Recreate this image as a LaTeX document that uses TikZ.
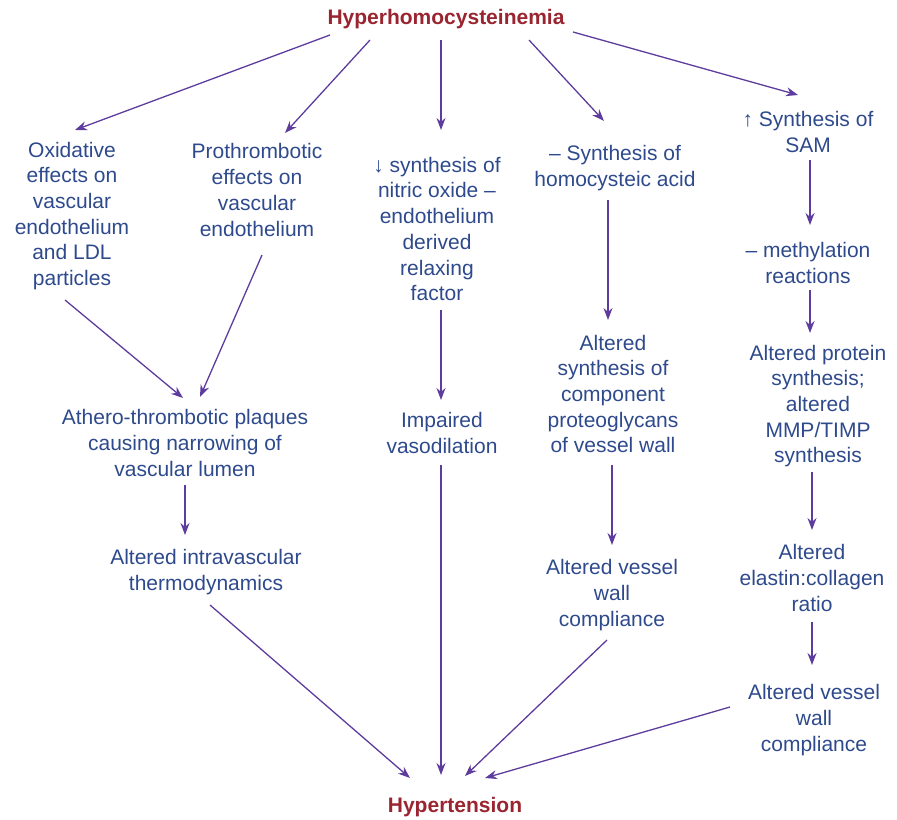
\documentclass[tikz,border=0pt]{standalone}
\usepackage{fontspec}
\setmainfont{Liberation Sans}
\usetikzlibrary{arrows.meta}
\definecolor{txt}{HTML}{2E4A8C}
\definecolor{arrc}{HTML}{5E3C9E}
\definecolor{ttl}{HTML}{9A2530}
\begin{document}
\begin{tikzpicture}[x=1bp,y=-1bp,
 box/.style={align=center,text=txt,inner sep=0pt,font=\fontsize{21bp}{25.7bp}\selectfont},
 head/.style={text=ttl,inner sep=0pt,font=\fontsize{21bp}{25.7bp}\selectfont\bfseries},
 link/.style={draw=arrc,line width=1.3bp,-{Stealth[length=12bp,width=9bp]}}]
\useasboundingbox (0,0) rectangle (897,820);

\node[head] (T) at (446,19) {Hyperhomocysteinemia};
\node[head] (H) at (455,807) {Hypertension};

\node[box] (A) at (72,216) {Oxidative\\effects on\\vascular\\endothelium\\and LDL\\particles};
\node[box] (B) at (257,190) {Prothrombotic\\effects on\\vascular\\endothelium};
\node[box] (C) at (437,229) {↓ synthesis of\\nitric oxide –\\endothelium\\derived\\relaxing\\factor};
\node[box] (D) at (615,168) {– Synthesis of\\homocysteic acid};
\node[box] (E) at (808,132) {↑ Synthesis of\\SAM};
\node[box] (F) at (808,263) {– methylation\\reactions};
\node[box] (G) at (818,406) {Altered protein\\synthesis;\\altered\\MMP/TIMP\\synthesis};
\node[box] (Hh) at (812,578) {Altered\\elastin:collagen\\ratio};
\node[box] (I) at (814,720) {Altered vessel\\wall\\compliance};
\node[box] (J) at (613,394) {Altered\\synthesis of\\component\\proteoglycans\\of vessel wall};
\node[box] (K) at (612,595) {Altered vessel\\wall\\compliance};
\node[box] (L) at (442,433) {Impaired\\vasodilation};
\node[box] (M) at (185,443) {Athero-thrombotic plaques\\causing narrowing of\\vascular lumen};
\node[box] (N) at (206,572) {Altered intravascular\\thermodynamics};

\draw[link] ([shift={(-116,16)}]T.center) -- ([shift={(3,-86)}]A.center);
\draw[link] ([shift={(-76,21)}]T.center) -- ([shift={(28,-57)}]B.center);
\draw[link] ([shift={(-5,21)}]T.center) -- ([shift={(4,-99)}]C.center);
\draw[link] ([shift={(83,21)}]T.center) -- ([shift={(-11,-47)}]D.center);
\draw[link] ([shift={(127,13)}]T.center) -- ([shift={(-10,-37)}]E.center);
\draw[link] ([shift={(2,28)}]E.center) -- ([shift={(2,-38)}]F.center);
\draw[link] ([shift={(2,27)}]F.center) -- ([shift={(-8,-73)}]G.center);
\draw[link] ([shift={(-6,66)}]G.center) -- ([shift={(0,-48)}]Hh.center);
\draw[link] ([shift={(0,44)}]Hh.center) -- ([shift={(-2,-55)}]I.center);
\draw[link] ([shift={(-7,32)}]D.center) -- ([shift={(-5,-74)}]J.center);
\draw[link] ([shift={(-1,71)}]J.center) -- ([shift={(0,-50)}]K.center);
\draw[link] ([shift={(4,81)}]C.center) -- ([shift={(-1,-33)}]L.center);
\draw[link] ([shift={(-7,84)}]A.center) -- ([shift={(-2,-45)}]M.center);
\draw[link] ([shift={(5,65)}]B.center) -- ([shift={(15,-46)}]M.center);
\draw[link] ([shift={(0,42)}]M.center) -- ([shift={(-21,-37)}]N.center);
\draw[link] ([shift={(4,33)}]N.center) -- ([shift={(-45,-29)}]H.center);
\draw[link] ([shift={(-1,32)}]L.center) -- ([shift={(-14,-32)}]H.center);
\draw[link] ([shift={(-5,45)}]K.center) -- ([shift={(10,-31)}]H.center);
\draw[link] ([shift={(-84,-13)}]I.center) -- ([shift={(30,-29)}]H.center);
\end{tikzpicture}
\end{document}
